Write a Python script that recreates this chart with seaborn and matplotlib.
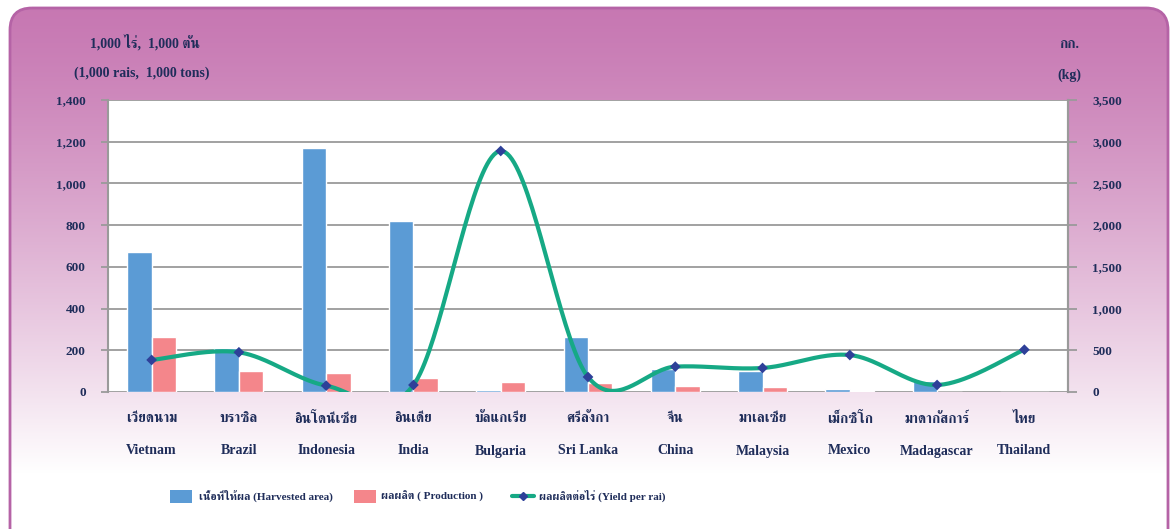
import numpy as np
import pandas as pd
import matplotlib
matplotlib.use("Agg")
import matplotlib.pyplot as plt
import seaborn as sns
from matplotlib.patches import FancyBboxPatch, Rectangle
from matplotlib.lines import Line2D

countries_th = ["เวียดนาม", "บราซิล", "อินโดนีเซีย", "อินเดีย", "บัลแกเรีย", "ศรีลังกา",
                "จีน", "มาเลเซีย", "เม็กซิโก", "มาดากัสการ์", "ไทย"]
countries_en = ["Vietnam", "Brazil", "Indonesia", "India", "Bulgaria", "Sri Lanka",
                "China", "Malaysia", "Mexico", "Madagascar", "Thailand"]
harvested = [672, 211, 1171, 818, 10, 265, 109, 102, 16, 54, 2]
production = [265, 102, 90, 65, 48, 42, 29, 22, 3, 1, 2]
yield_rai = [384, 476, 76, 84, 2889, 180, 304, 288, 443, 84, 507]
legend_labels = ["เนื้อที่ให้ผล (Harvested area)", "ผลผลิต ( Production )",
                 "ผลผลิตต่อไร่ (Yield per rai)"]

BLUE, RED, GREEN, NAVY, TXT = "#5b9bd5", "#f4868b", "#16a985", "#2e4099", "#1f2d5a"

sns.set_theme(style="white")
plt.rcParams["font.family"] = ["Liberation Serif", "Norasi", "FreeSerif", "Noto Sans Thai"]

fig = plt.figure(figsize=(11.73, 5.29), dpi=100)

# background panel with pink gradient
bg = fig.add_axes([0, 0, 1, 1])
bg.set_xlim(0, 1173)
bg.set_ylim(529, 0)
bg.axis("off")
grad = np.linspace(0, 1, 256).reshape(-1, 1)
top = np.array([0.78, 0.47, 0.70])
bot = np.array([1.0, 1.0, 1.0])
img = top + (bot - top) * np.clip(grad * 1.12, 0, 1) ** 1.25
im = bg.imshow(img[:, None, :].repeat(2, axis=1), extent=[10, 1168, 529, 8], aspect="auto")
frame = FancyBboxPatch((10, 8), 1158, 560, boxstyle="round,pad=0,rounding_size=22",
                       fc="none", ec="#b563a6", lw=2)
bg.add_patch(frame)
im.set_clip_path(frame)

ax = fig.add_axes([108 / 1173, 1 - 392 / 529, 960 / 1173, 292 / 529])
df = pd.DataFrame({"country": countries_en * 2,
                   "value": harvested + production,
                   "series": ["harvested"] * 11 + ["production"] * 11})
sns.barplot(data=df, x="country", y="value", hue="series", ax=ax,
            palette=[BLUE, RED], width=0.56, legend=False, saturation=1)
ax.set_ylim(0, 1400)
ax.set_xlim(-0.5, 10.5)
ax.set_yticks(range(0, 1401, 200))
ax.yaxis.grid(True, color="#9a9a9a", lw=1.3)
ax.set_axisbelow(True)
ax.set_xlabel("")
ax.set_ylabel("")
ax.set_xticks([])
ax.set_yticklabels([f"{v:,}" for v in range(0, 1401, 200)], fontweight="bold",
                   color=TXT, fontsize=9.5)
ax.tick_params(axis="y", length=5, width=1.3, color="#9a9a9a", pad=11, left=True)
for s in ["top", "bottom"]:
    ax.spines[s].set_visible(False)
for s in ["left", "right"]:
    ax.spines[s].set_color("#9a9a9a")
    ax.spines[s].set_linewidth(1.5)

ax2 = ax.twinx()
ax2.set_ylim(0, 3500)
ax2.set_yticks(range(0, 3501, 500))
ax2.set_yticklabels([f"{v:,}" for v in range(0, 3501, 500)], fontweight="bold",
                    color=TXT, fontsize=9.5)
ax2.tick_params(axis="y", length=6.5, width=1.3, color="#9a9a9a", pad=11, right=True)
for s in ["top", "bottom", "left"]:
    ax2.spines[s].set_visible(False)
ax2.spines["right"].set_color("#9a9a9a")
ax2.spines["right"].set_linewidth(1.5)

# smoothed line through the yield points (Catmull-Rom, like Excel's smooth line)
xs = np.arange(len(yield_rai), dtype=float)
ys = np.array(yield_rai, dtype=float)
px = np.concatenate([[xs[0]], xs, [xs[-1]]])
py = np.concatenate([[ys[0]], ys, [ys[-1]]])
t = np.linspace(0, 1, 40)
cx, cy = [], []
for i in range(1, len(px) - 2):
    for src, dst in ((px, cx), (py, cy)):
        p0, p1, p2, p3 = src[i - 1], src[i], src[i + 1], src[i + 2]
        dst.append(0.5 * (2 * p1 + (-p0 + p2) * t + (2 * p0 - 5 * p1 + 4 * p2 - p3) * t ** 2
                          + (-p0 + 3 * p1 - 3 * p2 + p3) * t ** 3))
ax2.plot(np.concatenate(cx), np.concatenate(cy), color=GREEN, lw=3, zorder=3)
sns.scatterplot(x=xs, y=ys, ax=ax2, marker="D", s=30, color=NAVY, zorder=4,
                edgecolor="none")

txt = dict(color=TXT, fontweight="bold", fontsize=10)
for i in range(11):
    xp = 108 + 87.27 * (i + 0.5)
    bg.text(xp, 419, countries_th[i], ha="center", va="center", **txt)
    bg.text(xp, 451, countries_en[i], ha="center", va="center", **txt)

bg.text(145, 42, "1,000 ไร่,  1,000 ตัน", ha="center", va="center", **txt)
bg.text(142, 73, "(1,000 rais,  1,000 tons)", ha="center", va="center", **txt)
bg.text(1069, 45, "กก.", ha="center", va="center", **txt)
bg.text(1069, 75, "(kg)", ha="center", va="center", **txt)

# legend row
bg.add_patch(Rectangle((170, 490), 22, 13, fc=BLUE, ec="none"))
bg.add_patch(Rectangle((354, 490), 22, 13, fc=RED, ec="none"))
bg.add_line(Line2D([512, 534], [496, 496], color=GREEN, lw=3))
bg.add_line(Line2D([523], [496], marker="D", ms=4.5, color=NAVY, lw=0))
for xp, lab in zip([199, 381, 539], legend_labels):
    bg.text(xp, 496, lab, ha="left", va="center", color=TXT, fontweight="bold", fontsize=8)

fig.savefig("out.png", dpi=100)
